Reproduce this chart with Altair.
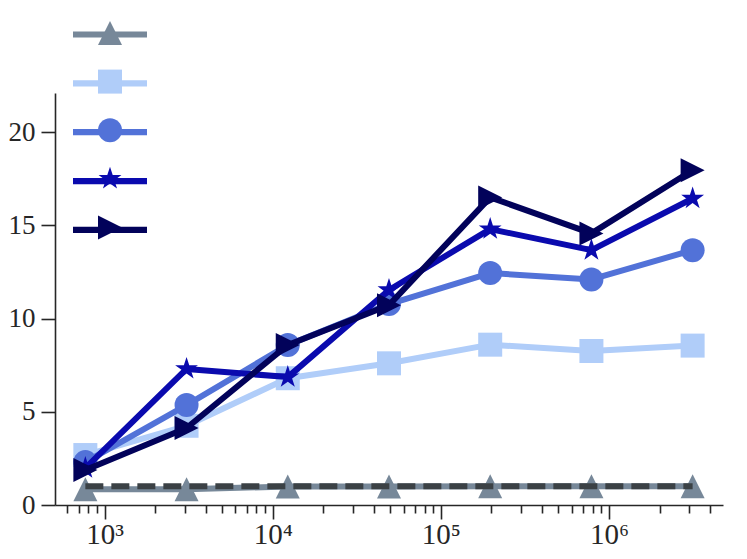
import altair as alt
import pandas as pd

# ---- data ----
x_vals = [768, 3072, 12288, 49152, 196608, 786432, 3145728]
series_names = ["slate", "light", "royal", "blue", "navy"]
slate_vals = [0.85, 0.85, 0.99, 0.99, 1.0, 1.0, 1.0]
light_vals = [2.68, 4.25, 6.8, 7.6, 8.6, 8.26, 8.55]
royal_vals = [2.3, 5.36, 8.58, 10.78, 12.44, 12.1, 13.67]
blue_vals = [1.98, 7.3, 6.86, 11.53, 14.8, 13.67, 16.44]
navy_vals = [1.88, 4.13, 8.58, 10.72, 16.5, 14.57, 17.96]
baseline_vals = [1.0, 1.0, 1.0, 1.0, 1.0, 1.0, 1.0]

y_ticks = [0, 5, 10, 15, 20]
major_x = [1000, 10000, 100000, 1000000]
major_x_labels = ["10³", "10⁴", "10⁵", "10⁶"]
minor_x = [600, 700, 800, 900,
           2000, 3000, 4000, 5000, 6000, 7000, 8000, 9000,
           20000, 30000, 40000, 50000, 60000, 70000, 80000, 90000,
           200000, 300000, 400000, 500000, 600000, 700000, 800000, 900000,
           2000000, 3000000, 4000000]

colors = ["#778899", "#B0CDF9", "#5272D8", "#0A0AAE", "#02025A"]
star = ("M0,-1L0.225,-0.309L0.951,-0.309L0.363,0.118L0.588,0.809L0,0.382"
        "L-0.588,0.809L-0.363,0.118L-0.951,-0.309L-0.225,-0.309Z")
shapes = ["M0,-1L1,1L-1,1Z", "square", "circle", star, "M1,0L-1,1L-1,-1Z"]
legend_line_path = "M-1,-0.05L1,-0.05M-1,0L1,0M-1,0.05L1,0.05"

all_vals = [slate_vals, light_vals, royal_vals, blue_vals, navy_vals]
rows = []
for name, vals in zip(series_names, all_vals):
    for xv, yv in zip(x_vals, vals):
        rows.append({"x": xv, "y": yv, "series": name, "marker": name + " marker"})
df = pd.DataFrame(rows)
marker_names = [n + " marker" for n in series_names]
base_df = pd.DataFrame({"x": x_vals, "y": baseline_vals})

FONT = "Liberation Serif, Times New Roman, serif"
AX = "#262626"

label_expr = " : ".join(
    f"datum.value == {v} ? '{l}'" for v, l in zip(major_x, major_x_labels)
) + " : ''"
major_test = "indexof([" + ",".join(str(v) for v in major_x) + "], datum.value) >= 0"

x_enc = alt.X(
    "x:Q",
    scale=alt.Scale(type="log", domain=[506.8, 4768700], nice=False),
    axis=alt.Axis(
        values=sorted(major_x + minor_x),
        labelExpr=label_expr,
        tickSize={"condition": {"test": major_test, "value": 14}, "value": 8},
        grid=False, title=None, labelFont=FONT, labelFontSize=29,
        labelColor=AX, domainColor=AX, tickColor=AX, domainWidth=1.6,
        tickWidth=1.6, labelPadding=1, labelFlush=False, labelOverlap=False,
    ),
)
y_enc = alt.Y(
    "y:Q",
    scale=alt.Scale(domain=[0, 22.1], nice=False, zero=False),
    axis=alt.Axis(
        values=y_ticks, grid=False, title=None, labelFont=FONT,
        labelFontSize=27, labelColor=AX, domainColor=AX, tickColor=AX,
        domainWidth=1.6, tickWidth=1.6, tickSize=14, labelPadding=6,
    ),
)

line_legend = alt.Legend(
    orient="none", legendX=16.5, legendY=-97, title=None,
    symbolType=legend_line_path, symbolSize=5476, symbolStrokeWidth=2.5,
    labelExpr="''", labelFontSize=1, rowPadding=2.85, padding=0,
    symbolOpacity=1,
)
marker_legend = alt.Legend(
    orient="none", legendX=40, legendY=-75, title=None, symbolSize=576,
    symbolStrokeWidth=0, labelExpr="''", labelFontSize=30, rowPadding=18.6,
    padding=0, symbolOpacity=1,
)

stroke_enc = alt.Stroke("series:N", scale=alt.Scale(domain=series_names, range=colors),
                        legend=line_legend)
color_enc = alt.Color("marker:N", scale=alt.Scale(domain=marker_names, range=colors),
                      legend=marker_legend)
shape_enc = alt.Shape("marker:N", scale=alt.Scale(domain=marker_names, range=shapes),
                      legend=marker_legend)

layers = []
for name in series_names:
    b = alt.Chart().transform_filter(alt.datum.series == name)
    layers.append(
        b.mark_line(strokeWidth=6, strokeJoin="round").encode(x=x_enc, y=y_enc, stroke=stroke_enc)
    )
    layers.append(
        b.mark_point(filled=True, size=576, opacity=1, strokeWidth=0).encode(
            x=x_enc, y=y_enc, color=color_enc, shape=shape_enc)
    )

dashed = alt.Chart(base_df).mark_line(
    strokeDash=[18, 8], strokeWidth=6, color="#3b4145"
).encode(x=x_enc, y=y_enc)
layers.append(dashed)

chart = alt.layer(*layers, data=df).properties(
    width=668, height=412,
    autosize=alt.AutoSizeParams(type="none"),
    padding={"left": 47, "top": 85, "right": 16, "bottom": 50},
    background="white",
).configure_view(stroke=None)

chart.save("out.html", embed_options={"renderer": "svg", "actions": False})
